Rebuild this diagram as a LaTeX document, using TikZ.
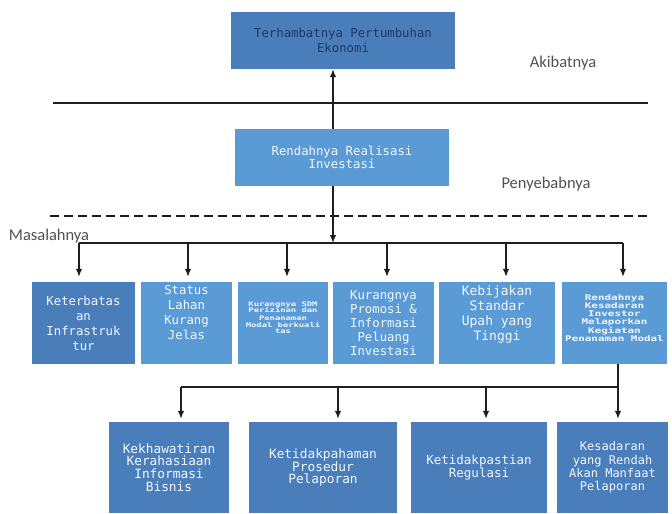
\documentclass[tikz,border=0pt]{standalone}
\usepackage{fontspec}
\setmainfont{DejaVu Sans Mono}
\newfontfamily\labfont{Carlito}
\newfontfamily\widemono[FakeStretch=1.4]{DejaVu Sans Mono}
\usetikzlibrary{arrows.meta}
\definecolor{dblue}{HTML}{4A7EBB}
\definecolor{lblue}{HTML}{5B9BD5}
\definecolor{navy}{HTML}{1F3864}
\definecolor{labgray}{HTML}{505050}
\definecolor{linec}{HTML}{1E1E1E}
\definecolor{txtw}{HTML}{F2F6FC}
\begin{document}
\begin{tikzpicture}[x=1pt,y=-1pt,
  box/.style={rectangle, inner sep=1pt, align=center, text=txtw, font=\fontsize{12.3}{15}\selectfont},
  dbox/.style={box, fill=dblue},
  lbox/.style={box, fill=lblue},
  conn/.style={line width=1.3pt, draw=linec},
  busline/.style={line width=2pt, draw=linec},
  arr/.style={conn, -{Latex[length=8pt,width=6.5pt]}},
  sepline/.style={line width=2.6pt, draw=linec},
  lab/.style={text=labgray, font=\labfont\fontsize{16.5}{19}\selectfont},
  tiny/.style={font=\widemono\bfseries\fontsize{6.3}{6.5}\selectfont},
  small/.style={font=\widemono\bfseries\fontsize{7.8}{8.3}\selectfont}]
\useasboundingbox (0,0) rectangle (672,514);

% main boxes
\node[dbox, text=navy, minimum width=224pt, minimum height=57pt] (top) at (343,40.5)
  {Terhambatnya Pertumbuhan\\Ekonomi};
\node[lbox, minimum width=214pt, minimum height=57pt, font=\fontsize{12.3}{12.5}\selectfont] (mid) at (342,157.5)
  {Rendahnya Realisasi\\Investasi};

% labels
\node[lab] (akib) at (563,63) {Akibatnya};
\node[lab] (peny) at (546,184) {Penyebabnya};
\node[lab] (masa) at (49,236) {Masalahnya};

% separators
\draw[sepline] (53,103) -- (648,103);
\draw[line width=2pt, draw=linec, dash pattern=on 9pt off 5pt] (50,216) -- (651,216);

% row 1
\node[dbox, minimum width=103pt, minimum height=82pt] (b1) at (83.5,323)
  {Keterbatas\\an\\Infrastruk\\tur};
\node[lbox, minimum width=91pt, minimum height=82pt] (b2) at (186.5,323)
  {Status\\Lahan\\Kurang\\Jelas\\[6pt]};
\node[lbox, tiny, minimum width=90pt, minimum height=82pt] (b3) at (283,323)
  {Kurangnya SDM\\Perizinan dan\\[1.5pt]Penanaman\\Modal berkuali\\tas\\[4pt]};
\node[lbox, minimum width=101pt, minimum height=82pt, font=\fontsize{12.3}{14}\selectfont] (b4) at (383.5,323)
  {Kurangnya\\Promosi \&\\Informasi\\Peluang\\Investasi};
\node[lbox, minimum width=116pt, minimum height=82pt, font=\fontsize{13}{15}\selectfont] (b5) at (497,323)
  {Kebijakan\\Standar\\Upah yang\\Tinggi\\[4pt]};
\node[lbox, small, minimum width=105pt, minimum height=82pt] (b6) at (614.5,323)
  {Rendahnya\\Kesadaran\\Investor\\Melaporkan\\Kegiatan\\Penanaman Modal\\[2pt]};

% row 2
\node[dbox, minimum width=120pt, minimum height=91pt, font=\fontsize{12.8}{12.8}\selectfont] (c1) at (169,467.5)
  {Kekhawatiran\\Kerahasiaan\\Informasi\\Bisnis};
\node[dbox, minimum width=148pt, minimum height=91pt, font=\fontsize{12.8}{12.8}\selectfont] (c2) at (323,467.5)
  {Ketidakpahaman\\Prosedur\\Pelaporan};
\node[dbox, minimum width=136pt, minimum height=91pt, font=\fontsize{12.5}{12}\selectfont] (c3) at (479,467.5)
  {Ketidakpastian\\Regulasi};
\node[dbox, minimum width=111pt, minimum height=91pt, font=\fontsize{12}{13.3}\selectfont] (c4) at (612.5,467.5)
  {Kesadaran\\yang Rendah\\Akan Manfaat\\Pelaporan};

% top arrow
\coordinate (ax) at (333,0);
\draw[arr] (mid.north -| ax) -- (top.south -| ax);

% bus 1
\coordinate (bus1) at (333,243);
\draw[arr] (mid.south -| ax) -- (bus1);
\coordinate (d1) at (79,243);
\coordinate (d2) at (188,243);
\coordinate (d3) at (287,243);
\coordinate (d4) at (387,243);
\coordinate (d5) at (506,243);
\coordinate (d6) at (623,243);
\draw[busline] (d1) -- (d6);
\draw[arr, shorten >=5pt] (d1) -- (d1 |- b1.north);
\draw[arr, shorten >=5pt] (d2) -- (d2 |- b2.north);
\draw[arr, shorten >=5pt] (d3) -- (d3 |- b3.north);
\draw[arr, shorten >=5pt] (d4) -- (d4 |- b4.north);
\draw[arr, shorten >=5pt] (d5) -- (d5 |- b5.north);
\draw[arr, shorten >=5pt] (d6) -- (d6 |- b6.north);

% bus 2
\coordinate (e1) at (181,387);
\coordinate (e2) at (338,387);
\coordinate (e3) at (486,387);
\coordinate (e4) at (618,387);
\draw[conn] (e4 |- b6.south) -- (e4);
\draw[busline] (e1) -- (e4);
\draw[arr, shorten >=3pt] (e1) -- (e1 |- c1.north);
\draw[arr, shorten >=3pt] (e2) -- (e2 |- c2.north);
\draw[arr, shorten >=3pt] (e3) -- (e3 |- c3.north);
\draw[arr, shorten >=3pt] (e4) -- (e4 |- c4.north);
\end{tikzpicture}
\end{document}
